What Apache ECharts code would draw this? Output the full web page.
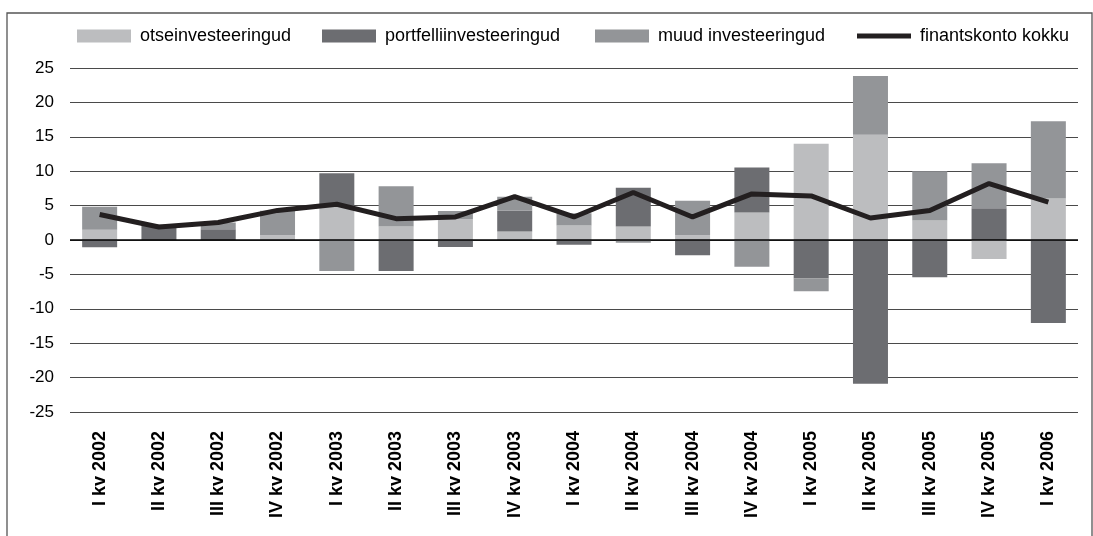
<!DOCTYPE html>
<html>
<head>
<meta charset="utf-8">
<title>finantskonto</title>
<script src="https://cdn.jsdelivr.net/npm/echarts@6/dist/echarts.min.js"></script>
<style>
    html, body { margin: 0; padding: 0; background: #fff; }
    #main { width: 1093px; height: 536px; }
</style>
</head>
<body>
<div id="main"></div>
<script>
var kvartalid = ['I kv 2002', 'II kv 2002', 'III kv 2002', 'IV kv 2002',
    'I kv 2003', 'II kv 2003', 'III kv 2003', 'IV kv 2003',
    'I kv 2004', 'II kv 2004', 'III kv 2004', 'IV kv 2004',
    'I kv 2005', 'II kv 2005', 'III kv 2005', 'IV kv 2005', 'I kv 2006'];

var otse = [1.5, 0, 0, 0.7, 4.9, 1.95, 3.0, 1.25, 2.1, 1.95, 0.7, 4.0, 14.0, 15.3, 2.85, -2.75, 6.05];
var portfell = [-1.05, 2.2, 1.55, 0, 4.8, -4.5, -1.0, 3.0, -0.7, 5.65, -2.2, 6.55, -5.6, -20.9, -5.4, 4.6, -12.05];
var muud = [3.35, 0, 1.0, 3.55, -4.5, 5.85, 1.2, 2.05, 1.8, -0.4, 5.0, -3.9, -1.85, 8.55, 7.15, 6.55, 11.2];
var kokku = [3.7, 1.9, 2.55, 4.3, 5.2, 3.1, 3.35, 6.3, 3.35, 6.9, 3.35, 6.7, 6.4, 3.2, 4.3, 8.2, 5.5];

var yTicks = [-25, -20, -15, -10, -5, 0, 5, 10, 15, 20, 25];

var font = 'Liberation Sans, Arial, Helvetica, sans-serif';

// one legend per item so each sits where it is in the picture
var legendItem = function (name, left, h) {
    return {
        data: [name],
        left: left,
        top: 22,
        icon: 'rect',
        itemWidth: 54,
        itemHeight: h,
        selectedMode: false,
        textStyle: { fontFamily: font, fontSize: 18, color: '#000', padding: [0, 0, 0, 4] }
    };
};

var option = {
    backgroundColor: '#fff',
    animation: false,
    legend: [
        legendItem('otseinvesteeringud', 72, 13),
        legendItem('portfelliinvesteeringud', 317, 13),
        legendItem('muud investeeringud', 590, 13),
        legendItem('finantskonto kokku', 852, 5)
    ],
    graphic: [{
        type: 'rect',
        shape: { x: 7, y: 13, width: 1085, height: 540 },
        style: { fill: 'none', stroke: '#555', lineWidth: 1.3 },
        silent: true
    }],
    grid: { left: 70, right: 15, top: 68, bottom: 124 },
    xAxis: {
        type: 'category',
        data: kvartalid,
        axisLine: { show: false, onZero: false },
        axisTick: { show: false },
        axisLabel: {
            rotate: 90,
            margin: 19,
            interval: 0,
            fontFamily: font,
            fontWeight: 'bold',
            fontSize: 18,
            color: '#000'
        }
    },
    yAxis: {
        type: 'value',
        min: yTicks[0],
        max: yTicks[yTicks.length - 1],
        interval: 5,
        axisLine: { show: false },
        axisTick: { show: false },
        axisLabel: { margin: 16, fontFamily: font, fontSize: 17, color: '#000' },
        splitLine: { lineStyle: { color: '#4a4a4a', width: 1 } }
    },
    series: [
        {
            name: 'otseinvesteeringud',
            type: 'bar',
            stack: 'kokku',
            barWidth: 35,
            data: otse,
            itemStyle: { color: '#bcbdbf' },
            markLine: {
                silent: true,
                symbol: 'none',
                label: { show: false },
                lineStyle: { color: '#000', width: 1.6, type: 'solid' },
                data: [{ yAxis: 0 }],
                z: 5
            }
        },
        {
            name: 'portfelliinvesteeringud',
            type: 'bar',
            stack: 'kokku',
            data: portfell,
            itemStyle: { color: '#6c6d71' }
        },
        {
            name: 'muud investeeringud',
            type: 'bar',
            stack: 'kokku',
            data: muud,
            itemStyle: { color: '#939598' }
        },
        {
            name: 'finantskonto kokku',
            type: 'line',
            data: kokku,
            showSymbol: false,
            color: '#231f20',
            lineStyle: { color: '#231f20', width: 5 },
            z: 10
        }
    ]
};

var myChart = echarts.init(document.getElementById('main'));
myChart.setOption(option);
</script>
</body>
</html>
